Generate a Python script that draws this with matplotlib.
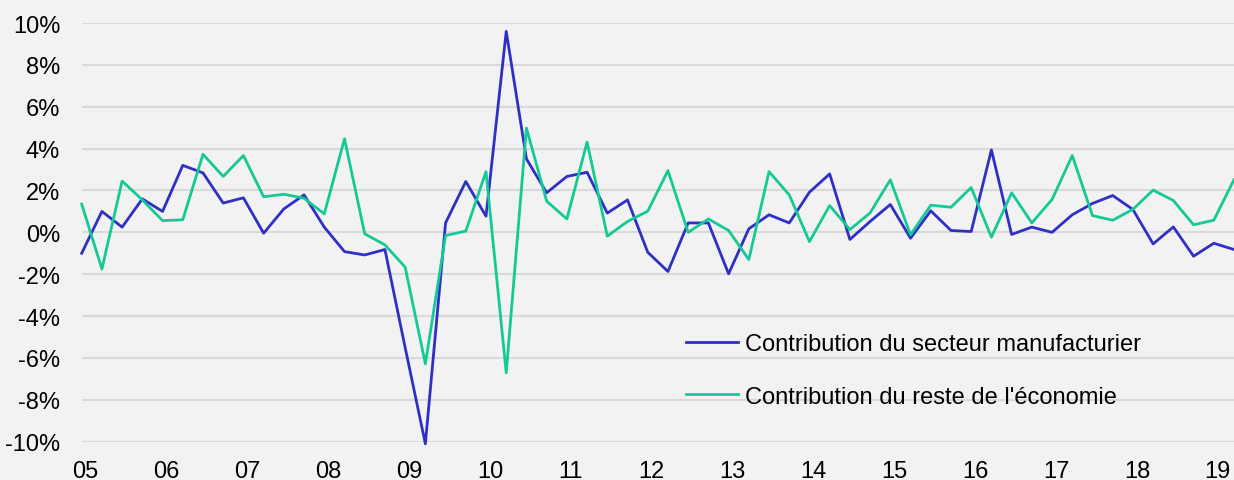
import matplotlib
matplotlib.use('Agg')
import matplotlib.pyplot as plt
import matplotlib.transforms as mtransforms

# Quarterly contributions, 2005Q1 - 2019Q2 (%)
quarters = list(range(58))
manufacturier = [-1.0, 1.0, 0.25, 1.6, 1.0, 3.2, 2.84, 1.4, 1.65, -0.04,
                 1.12, 1.79, 0.25, -0.92, -1.08, -0.82, -5.5, -10.1, 0.45, 2.43,
                 0.77, 9.6, 3.51, 1.89, 2.67, 2.87, 0.92, 1.55, -0.95, -1.87,
                 0.45, 0.45, -1.98, 0.17, 0.84, 0.45, 1.92, 2.79, -0.34, 0.52,
                 1.33, -0.28, 1.03, 0.09, 0.04, 3.94, -0.1, 0.25, 0.0, 0.84,
                 1.38, 1.76, 1.09, -0.55, 0.26, -1.14, -0.52, -0.82]
reste = [1.35, -1.75, 2.45, 1.55, 0.56, 0.6, 3.73, 2.67, 3.67, 1.7,
         1.82, 1.63, 0.88, 4.47, -0.07, -0.6, -1.66, -6.28, -0.15, 0.06,
         2.9, -6.71, 4.98, 1.49, 0.64, 4.31, -0.18, 0.52, 1.01, 2.95,
         0.0, 0.64, 0.09, -1.3, 2.9, 1.79, -0.44, 1.28, 0.13, 0.93,
         2.51, -0.12, 1.3, 1.2, 2.14, -0.23, 1.89, 0.45, 1.57, 3.67,
         0.8, 0.58, 1.1, 2.02, 1.52, 0.36, 0.58, 2.52]
year_labels = ['05', '06', '07', '08', '09', '10', '11', '12', '13', '14',
               '15', '16', '17', '18', '19']

plt.rcParams['font.family'] = ['Liberation Sans', 'DejaVu Sans']

bg = '#F2F2F2'
fig = plt.figure(figsize=(12.34, 4.81), dpi=100, facecolor=bg)
ax = fig.add_axes([0.0662, 0.0796, 0.9338, 0.8705], facecolor=bg)

ax.plot(quarters, manufacturier, color='#2F2FC6', lw=2.0, clip_on=False,
        label='Contribution du secteur manufacturier')
ax.plot(quarters, reste, color='#14C995', lw=2.0, clip_on=False,
        label="Contribution du reste de l'économie")

ax.set_xlim(0, 57)
ax.set_ylim(-10, 10)
ax.set_yticks(range(-10, 11, 2))
ax.set_yticklabels([f'{v}%' for v in range(-10, 11, 2)])
ax.set_xticks(range(0, 57, 4))
ax.set_xticklabels(year_labels)

ax.grid(axis='y', color='#D9D9D9', lw=1.5)
ax.set_axisbelow(True)
for s in ax.spines.values():
    s.set_visible(False)
ax.tick_params(length=0, labelsize=17, colors='black')
ax.tick_params(axis='y', pad=15.5)
ax.tick_params(axis='x', pad=13)

# year labels sit a few pixels right of their quarter
shift = mtransforms.ScaledTranslation(4 / 100, 0, fig.dpi_scale_trans)
for lbl in ax.get_xticklabels():
    lbl.set_transform(lbl.get_transform() + shift)

ax.legend(loc='upper left', bbox_to_anchor=(0.5244, 0.260), frameon=False,
          fontsize=17, handlelength=2.2, handletextpad=0.3,
          labelspacing=1.3, borderpad=0, borderaxespad=0)

fig.savefig('out.png', dpi=100, facecolor=bg)
